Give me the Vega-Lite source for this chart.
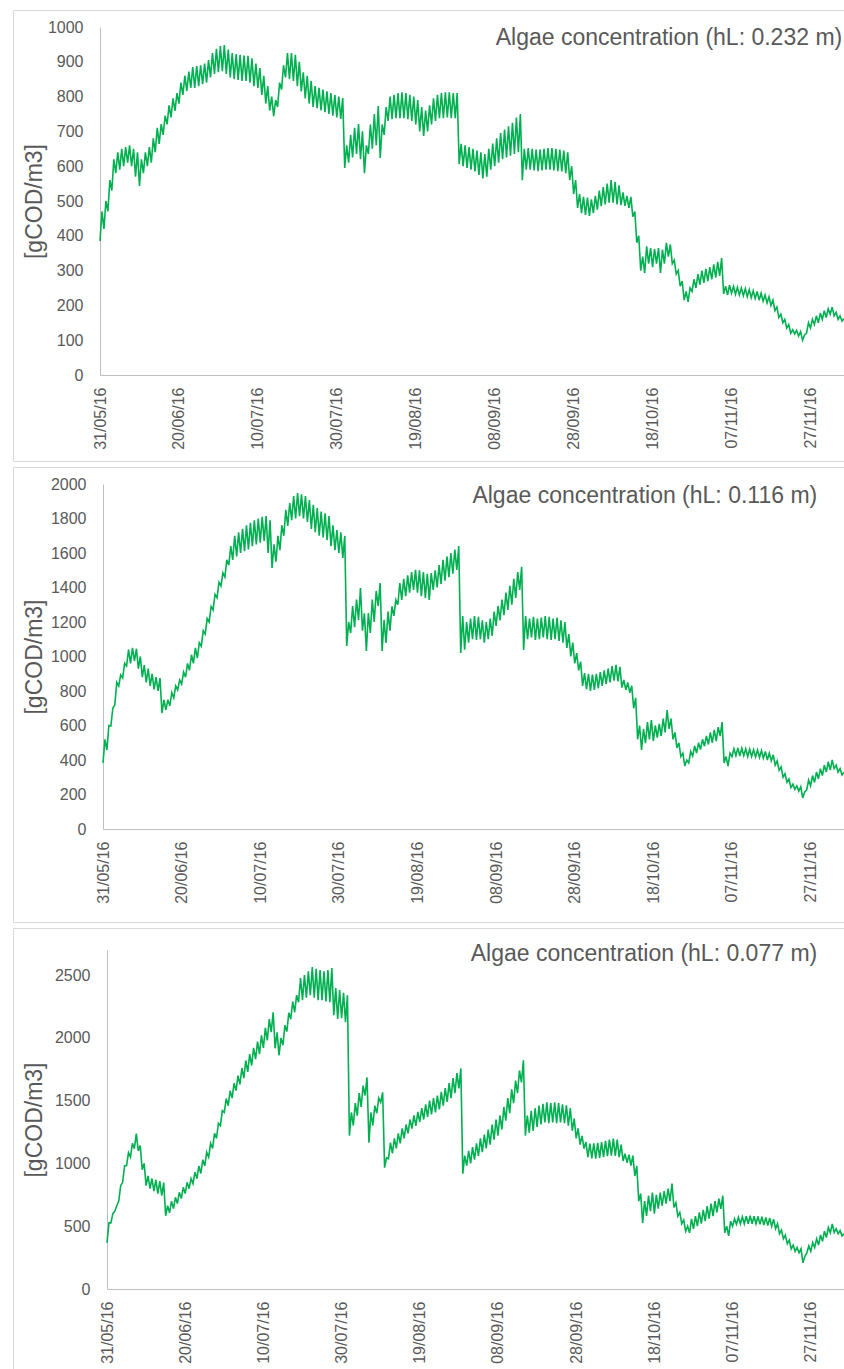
{
"$schema":"https://vega.github.io/schema/vega-lite/v6.json",
"background":"white",
"padding":{"left":12,"top":9,"right":0,"bottom":0},
"spacing":4,
"config":{
"font":"Liberation Sans, Arial, sans-serif",
"view":{"stroke":"#d9d9d9","strokeWidth":1},
"axis":{"grid":false,"ticks":false,"domainColor":"#bfbfbf","domainWidth":1,"labelColor":"#595959","labelFontSize":16,"titleColor":"#595959","titleFontWeight":"normal","titleFontSize":23,"titleBaseline":"middle","labelFont":"Liberation Sans, Arial, sans-serif","titleFont":"Liberation Sans, Arial, sans-serif"},
"title":{"fontSize":23,"fontWeight":"normal","color":"#595959","anchor":"end","font":"Liberation Sans, Arial, sans-serif"}
},
"data":{"values":[
{"d":0,"a":385,"b":383,"c":367},{"d":0.5,"a":470,"b":520,"c":527},
{"d":1,"a":420,"b":458,"c":527},{"d":1.5,"a":500,"b":600,"c":600},
{"d":2,"a":470,"b":597,"c":620},{"d":2.5,"a":560,"b":700,"c":663},
{"d":3,"a":530,"b":720,"c":700},{"d":3.5,"a":620,"b":850,"c":823},
{"d":4,"a":580,"b":829,"c":850},{"d":4.5,"a":640,"b":893,"c":982},
{"d":5,"a":590,"b":875,"c":982},{"d":5.5,"a":650,"b":960,"c":1086},
{"d":6,"a":600,"b":945,"c":1050},{"d":6.5,"a":655,"b":1040,"c":1160},
{"d":7,"a":610,"b":960,"c":1118},{"d":7.5,"a":660,"b":1050,"c":1238},
{"d":8,"a":600,"b":974,"c":1100},{"d":8.5,"a":650,"b":1045,"c":1142},
{"d":9,"a":570,"b":930,"c":950},{"d":9.5,"a":640,"b":1000,"c":1000},
{"d":10,"a":543,"b":880,"c":823},{"d":10.5,"a":620,"b":950,"c":902},
{"d":11,"a":580,"b":850,"c":800},{"d":11.5,"a":640,"b":930,"c":880},
{"d":12,"a":600,"b":830,"c":780},{"d":12.5,"a":655,"b":900,"c":870},
{"d":13,"a":610,"b":810,"c":760},{"d":13.5,"a":680,"b":880,"c":860},
{"d":14,"a":640,"b":800,"c":743},{"d":14.5,"a":710,"b":875,"c":847},
{"d":15,"a":664,"b":672,"c":583},{"d":15.5,"a":721,"b":748,"c":663},
{"d":16,"a":690,"b":690,"c":607},{"d":16.5,"a":745,"b":750,"c":700},
{"d":17,"a":720,"b":713,"c":640},{"d":17.5,"a":775,"b":790,"c":730},
{"d":18,"a":740,"b":760,"c":680},{"d":18.5,"a":795,"b":830,"c":770},
{"d":19,"a":759,"b":806,"c":720},{"d":19.5,"a":810,"b":864,"c":810},
{"d":20,"a":780,"b":840,"c":760},{"d":20.5,"a":840,"b":910,"c":850},
{"d":21,"a":805,"b":880,"c":799},{"d":21.5,"a":860,"b":960,"c":879},
{"d":22,"a":816,"b":920,"c":840},{"d":22.5,"a":872,"b":1010,"c":930},
{"d":23,"a":825,"b":960,"c":880},{"d":23.5,"a":885,"b":1050,"c":980},
{"d":24,"a":825,"b":990,"c":920},{"d":24.5,"a":888,"b":1080,"c":1030},
{"d":25,"a":830,"b":1060,"c":980},{"d":25.5,"a":890,"b":1150,"c":1090},
{"d":26,"a":836,"b":1130,"c":1050},{"d":26.5,"a":895,"b":1220,"c":1160},
{"d":27,"a":840,"b":1200,"c":1120},{"d":27.5,"a":905,"b":1290,"c":1240},
{"d":28,"a":855,"b":1270,"c":1200},{"d":28.5,"a":925,"b":1360,"c":1320},
{"d":29,"a":865,"b":1340,"c":1300},{"d":29.5,"a":937,"b":1430,"c":1420},
{"d":30,"a":870,"b":1409,"c":1406},{"d":30.5,"a":945,"b":1484,"c":1517},
{"d":31,"a":873,"b":1460,"c":1460},{"d":31.5,"a":948,"b":1560,"c":1580},
{"d":32,"a":865,"b":1530,"c":1520},{"d":32.5,"a":935,"b":1640,"c":1640},
{"d":33,"a":855,"b":1560,"c":1580},{"d":33.5,"a":925,"b":1700,"c":1700},
{"d":34,"a":850,"b":1580,"c":1630},{"d":34.5,"a":922,"b":1720,"c":1760},
{"d":35,"a":848,"b":1600,"c":1680},{"d":35.5,"a":920,"b":1740,"c":1820},
{"d":36,"a":845,"b":1610,"c":1730},{"d":36.5,"a":918,"b":1760,"c":1870},
{"d":37,"a":845,"b":1620,"c":1780},{"d":37.5,"a":917,"b":1775,"c":1920},
{"d":38,"a":840,"b":1640,"c":1830},{"d":38.5,"a":910,"b":1790,"c":1970},
{"d":39,"a":830,"b":1650,"c":1870},{"d":39.5,"a":895,"b":1800,"c":2020},
{"d":40,"a":825,"b":1660,"c":1920},{"d":40.5,"a":882,"b":1810,"c":2080},
{"d":41,"a":805,"b":1670,"c":1980},{"d":41.5,"a":860,"b":1814,"c":2150},
{"d":42,"a":780,"b":1600,"c":2045},{"d":42.5,"a":830,"b":1790,"c":2204},
{"d":43,"a":760,"b":1513,"c":1917},{"d":43.5,"a":800,"b":1650,"c":2045},
{"d":44,"a":744,"b":1550,"c":1861},{"d":44.5,"a":790,"b":1700,"c":2000},
{"d":45,"a":770,"b":1617,"c":1941},{"d":45.5,"a":840,"b":1760,"c":2100},
{"d":46,"a":820,"b":1700,"c":2050},{"d":46.5,"a":890,"b":1850,"c":2200},
{"d":47,"a":855,"b":1757,"c":2150},{"d":47.5,"a":925,"b":1890,"c":2290},
{"d":48,"a":850,"b":1790,"c":2204},{"d":48.5,"a":925,"b":1930,"c":2340},
{"d":49,"a":845,"b":1800,"c":2284},{"d":49.5,"a":920,"b":1948,"c":2476},
{"d":50,"a":830,"b":1814,"c":2300},{"d":50.5,"a":900,"b":1940,"c":2500},
{"d":51,"a":815,"b":1800,"c":2320},{"d":51.5,"a":870,"b":1930,"c":2530},
{"d":52,"a":795,"b":1780,"c":2340},{"d":52.5,"a":860,"b":1907,"c":2564},
{"d":53,"a":780,"b":1740,"c":2320},{"d":53.5,"a":845,"b":1880,"c":2550},
{"d":54,"a":770,"b":1720,"c":2300},{"d":54.5,"a":830,"b":1860,"c":2540},
{"d":55,"a":767,"b":1700,"c":2300},{"d":55.5,"a":825,"b":1840,"c":2530},
{"d":56,"a":760,"b":1690,"c":2290},{"d":56.5,"a":820,"b":1830,"c":2540},
{"d":57,"a":755,"b":1675,"c":2284},{"d":57.5,"a":815,"b":1814,"c":2556},
{"d":58,"a":750,"b":1640,"c":2180},{"d":58.5,"a":810,"b":1760,"c":2396},
{"d":59,"a":745,"b":1617,"c":2150},{"d":59.5,"a":805,"b":1733,"c":2380},
{"d":60,"a":740,"b":1600,"c":2157},{"d":60.5,"a":800,"b":1720,"c":2360},
{"d":61,"a":736,"b":1571,"c":2125},{"d":61.5,"a":796,"b":1699,"c":2340},
{"d":62,"a":595,"b":1061,"c":1222},{"d":62.5,"a":660,"b":1200,"c":1406},
{"d":63,"a":610,"b":1136,"c":1302},{"d":63.5,"a":690,"b":1293,"c":1480},
{"d":64,"a":625,"b":1170,"c":1380},{"d":64.5,"a":710,"b":1330,"c":1560},
{"d":65,"a":635,"b":1212,"c":1450},{"d":65.5,"a":721,"b":1397,"c":1620},
{"d":66,"a":620,"b":1150,"c":1541},{"d":66.5,"a":700,"b":1250,"c":1685},
{"d":67,"a":580,"b":1032,"c":1166},{"d":67.5,"a":660,"b":1252,"c":1406},
{"d":68,"a":635,"b":1136,"c":1302},{"d":68.5,"a":720,"b":1330,"c":1460},
{"d":69,"a":650,"b":1200,"c":1400},{"d":69.5,"a":750,"b":1380,"c":1520},
{"d":70,"a":660,"b":1293,"c":1486},{"d":70.5,"a":773,"b":1426,"c":1566},
{"d":71,"a":624,"b":1032,"c":966},{"d":71.5,"a":720,"b":1212,"c":1046},
{"d":72,"a":690,"b":1078,"c":1038},{"d":72.5,"a":770,"b":1260,"c":1166},
{"d":73,"a":730,"b":1150,"c":1080},{"d":73.5,"a":800,"b":1290,"c":1200},
{"d":74,"a":735,"b":1235,"c":1120},{"d":74.5,"a":805,"b":1328,"c":1240},
{"d":75,"a":738,"b":1300,"c":1160},{"d":75.5,"a":810,"b":1426,"c":1280},
{"d":76,"a":738,"b":1328,"c":1200},{"d":76.5,"a":812,"b":1450,"c":1310},
{"d":77,"a":738,"b":1350,"c":1240},{"d":77.5,"a":810,"b":1470,"c":1350},
{"d":78,"a":735,"b":1370,"c":1278},{"d":78.5,"a":805,"b":1490,"c":1382},
{"d":79,"a":730,"b":1386,"c":1300},{"d":79.5,"a":800,"b":1502,"c":1410},
{"d":80,"a":720,"b":1370,"c":1330},{"d":80.5,"a":790,"b":1500,"c":1440},
{"d":81,"a":700,"b":1350,"c":1350},{"d":81.5,"a":770,"b":1490,"c":1470},
{"d":82,"a":687,"b":1340,"c":1370},{"d":82.5,"a":760,"b":1480,"c":1500},
{"d":83,"a":700,"b":1328,"c":1390},{"d":83.5,"a":775,"b":1484,"c":1520},
{"d":84,"a":720,"b":1386,"c":1406},{"d":84.5,"a":795,"b":1500,"c":1541},
{"d":85,"a":730,"b":1400,"c":1430},{"d":85.5,"a":805,"b":1530,"c":1570},
{"d":86,"a":738,"b":1420,"c":1460},{"d":86.5,"a":810,"b":1560,"c":1600},
{"d":87,"a":738,"b":1440,"c":1490},{"d":87.5,"a":812,"b":1580,"c":1640},
{"d":88,"a":740,"b":1460,"c":1520},{"d":88.5,"a":812,"b":1600,"c":1680},
{"d":89,"a":738,"b":1480,"c":1560},{"d":89.5,"a":810,"b":1620,"c":1720},
{"d":90,"a":738,"b":1502,"c":1597},{"d":90.5,"a":810,"b":1640,"c":1757},
{"d":91,"a":606,"b":1020,"c":918},{"d":91.5,"a":664,"b":1235,"c":1062},
{"d":92,"a":600,"b":1040,"c":982},{"d":92.5,"a":660,"b":1200,"c":1100},
{"d":93,"a":595,"b":1080,"c":1000},{"d":93.5,"a":655,"b":1220,"c":1130},
{"d":94,"a":590,"b":1100,"c":1030},{"d":94.5,"a":650,"b":1235,"c":1160},
{"d":95,"a":585,"b":1096,"c":1060},{"d":95.5,"a":645,"b":1230,"c":1200},
{"d":96,"a":575,"b":1100,"c":1090},{"d":96.5,"a":640,"b":1210,"c":1230},
{"d":97,"a":565,"b":1080,"c":1120},{"d":97.5,"a":635,"b":1200,"c":1270},
{"d":98,"a":570,"b":1100,"c":1150},{"d":98.5,"a":650,"b":1220,"c":1310},
{"d":99,"a":590,"b":1120,"c":1190},{"d":99.5,"a":665,"b":1260,"c":1350},
{"d":100,"a":600,"b":1177,"c":1222},{"d":100.5,"a":680,"b":1293,"c":1382},
{"d":101,"a":610,"b":1210,"c":1270},{"d":101.5,"a":695,"b":1330,"c":1450},
{"d":102,"a":620,"b":1240,"c":1340},{"d":102.5,"a":705,"b":1370,"c":1520},
{"d":103,"a":625,"b":1270,"c":1400},{"d":103.5,"a":715,"b":1410,"c":1590},
{"d":104,"a":630,"b":1300,"c":1480},{"d":104.5,"a":725,"b":1450,"c":1660},
{"d":105,"a":635,"b":1340,"c":1560},{"d":105.5,"a":740,"b":1490,"c":1740},
{"d":106,"a":640,"b":1386,"c":1645},{"d":106.5,"a":750,"b":1520,"c":1821},
{"d":107,"a":560,"b":1038,"c":1222},{"d":107.5,"a":650,"b":1235,"c":1382},
{"d":108,"a":590,"b":1100,"c":1246},{"d":108.5,"a":652,"b":1220,"c":1420},
{"d":109,"a":590,"b":1110,"c":1260},{"d":109.5,"a":650,"b":1230,"c":1440},
{"d":110,"a":588,"b":1096,"c":1290},{"d":110.5,"a":648,"b":1220,"c":1460},
{"d":111,"a":586,"b":1100,"c":1310},{"d":111.5,"a":648,"b":1225,"c":1475},
{"d":112,"a":588,"b":1110,"c":1326},{"d":112.5,"a":650,"b":1235,"c":1486},
{"d":113,"a":590,"b":1100,"c":1320},{"d":113.5,"a":652,"b":1230,"c":1480},
{"d":114,"a":590,"b":1096,"c":1326},{"d":114.5,"a":652,"b":1220,"c":1486},
{"d":115,"a":588,"b":1100,"c":1320},{"d":115.5,"a":650,"b":1225,"c":1480},
{"d":116,"a":586,"b":1090,"c":1326},{"d":116.5,"a":648,"b":1210,"c":1470},
{"d":117,"a":585,"b":1080,"c":1320},{"d":117.5,"a":645,"b":1200,"c":1462},
{"d":118,"a":580,"b":1050,"c":1300},{"d":118.5,"a":640,"b":1130,"c":1440},
{"d":119,"a":560,"b":1000,"c":1260},{"d":119.5,"a":600,"b":1080,"c":1358},
{"d":120,"a":520,"b":960,"c":1200},{"d":120.5,"a":560,"b":1020,"c":1280},
{"d":121,"a":480,"b":920,"c":1150},{"d":121.5,"a":520,"b":970,"c":1220},
{"d":122,"a":465,"b":829,"c":1118},{"d":122.5,"a":512,"b":904,"c":1170},
{"d":123,"a":460,"b":810,"c":1050},{"d":123.5,"a":510,"b":900,"c":1158},
{"d":124,"a":457,"b":800,"c":1040},{"d":124.5,"a":505,"b":895,"c":1160},
{"d":125,"a":465,"b":806,"c":1038},{"d":125.5,"a":515,"b":900,"c":1165},
{"d":126,"a":475,"b":815,"c":1045},{"d":126.5,"a":530,"b":910,"c":1170},
{"d":127,"a":485,"b":830,"c":1050},{"d":127.5,"a":540,"b":920,"c":1180},
{"d":128,"a":490,"b":840,"c":1058},{"d":128.5,"a":550,"b":930,"c":1190},
{"d":129,"a":495,"b":850,"c":1062},{"d":129.5,"a":560,"b":945,"c":1198},
{"d":130,"a":495,"b":860,"c":1060},{"d":130.5,"a":555,"b":951,"c":1190},
{"d":131,"a":490,"b":855,"c":1050},{"d":131.5,"a":545,"b":940,"c":1150},
{"d":132,"a":488,"b":820,"c":1020},{"d":132.5,"a":525,"b":864,"c":1078},
{"d":133,"a":486,"b":806,"c":1006},{"d":133.5,"a":515,"b":850,"c":1070},
{"d":134,"a":480,"b":790,"c":982},{"d":134.5,"a":512,"b":830,"c":1062},
{"d":135,"a":455,"b":700,"c":900},{"d":135.5,"a":470,"b":760,"c":980},
{"d":136,"a":380,"b":520,"c":700},{"d":136.5,"a":400,"b":600,"c":760},
{"d":137,"a":300,"b":458,"c":527},{"d":137.5,"a":340,"b":580,"c":700},
{"d":138,"a":293,"b":498,"c":583},{"d":138.5,"a":370,"b":620,"c":743},
{"d":139,"a":320,"b":520,"c":620},{"d":139.5,"a":365,"b":632,"c":767},
{"d":140,"a":310,"b":510,"c":600},{"d":140.5,"a":362,"b":600,"c":750},
{"d":141,"a":320,"b":530,"c":640},{"d":141.5,"a":365,"b":610,"c":767},
{"d":142,"a":293,"b":539,"c":663},{"d":142.5,"a":360,"b":640,"c":780},
{"d":143,"a":320,"b":560,"c":680},{"d":143.5,"a":380,"b":690,"c":800},
{"d":144,"a":340,"b":580,"c":700},{"d":144.5,"a":375,"b":640,"c":839},
{"d":145,"a":320,"b":520,"c":650},{"d":145.5,"a":330,"b":560,"c":687},
{"d":146,"a":290,"b":470,"c":580},{"d":146.5,"a":300,"b":500,"c":610},
{"d":147,"a":255,"b":420,"c":520},{"d":147.5,"a":270,"b":440,"c":550},
{"d":148,"a":215,"b":365,"c":460},{"d":148.5,"a":240,"b":400,"c":500},
{"d":149,"a":210,"b":383,"c":447},{"d":149.5,"a":250,"b":450,"c":559},
{"d":150,"a":240,"b":423,"c":479},{"d":150.5,"a":275,"b":481,"c":580},
{"d":151,"a":250,"b":440,"c":500},{"d":151.5,"a":290,"b":500,"c":610},
{"d":152,"a":260,"b":460,"c":520},{"d":152.5,"a":300,"b":520,"c":630},
{"d":153,"a":265,"b":480,"c":540},{"d":153.5,"a":305,"b":540,"c":660},
{"d":154,"a":270,"b":490,"c":560},{"d":154.5,"a":310,"b":560,"c":680},
{"d":155,"a":275,"b":500,"c":580},{"d":155.5,"a":318,"b":575,"c":700},
{"d":156,"a":280,"b":510,"c":610},{"d":156.5,"a":325,"b":590,"c":720},
{"d":157,"a":285,"b":539,"c":639},{"d":157.5,"a":336,"b":620,"c":743},
{"d":158,"a":233,"b":383,"c":447},{"d":158.5,"a":255,"b":420,"c":500},
{"d":159,"a":230,"b":365,"c":423},{"d":159.5,"a":258,"b":440,"c":540},
{"d":160,"a":235,"b":420,"c":500},{"d":160.5,"a":255,"b":465,"c":560},
{"d":161,"a":232,"b":425,"c":515},{"d":161.5,"a":252,"b":470,"c":570},
{"d":162,"a":230,"b":423,"c":519},{"d":162.5,"a":250,"b":468,"c":575},
{"d":163,"a":228,"b":425,"c":519},{"d":163.5,"a":248,"b":465,"c":580},
{"d":164,"a":225,"b":420,"c":520},{"d":164.5,"a":245,"b":462,"c":583},
{"d":165,"a":222,"b":420,"c":520},{"d":165.5,"a":242,"b":460,"c":580},
{"d":166,"a":220,"b":418,"c":519},{"d":166.5,"a":240,"b":458,"c":578},
{"d":167,"a":215,"b":415,"c":515},{"d":167.5,"a":235,"b":455,"c":575},
{"d":168,"a":212,"b":410,"c":510},{"d":168.5,"a":230,"b":450,"c":570},
{"d":169,"a":207,"b":400,"c":505},{"d":169.5,"a":225,"b":440,"c":565},
{"d":170,"a":200,"b":395,"c":500},{"d":170.5,"a":215,"b":430,"c":555},
{"d":171,"a":185,"b":370,"c":480},{"d":171.5,"a":195,"b":395,"c":520},
{"d":172,"a":165,"b":340,"c":440},{"d":172.5,"a":175,"b":360,"c":470},
{"d":173,"a":150,"b":300,"c":400},{"d":173.5,"a":160,"b":320,"c":430},
{"d":174,"a":135,"b":270,"c":360},{"d":174.5,"a":145,"b":290,"c":390},
{"d":175,"a":120,"b":240,"c":320},{"d":175.5,"a":130,"b":260,"c":350},
{"d":176,"a":118,"b":230,"c":300},{"d":176.5,"a":128,"b":250,"c":330},
{"d":177,"a":112,"b":220,"c":288},{"d":177.5,"a":125,"b":245,"c":320},
{"d":178,"a":100,"b":180,"c":208},{"d":178.5,"a":115,"b":215,"c":260},
{"d":179,"a":120,"b":226,"c":288},{"d":179.5,"a":150,"b":284,"c":343},
{"d":180,"a":135,"b":250,"c":300},{"d":180.5,"a":160,"b":310,"c":370},
{"d":181,"a":145,"b":270,"c":330},{"d":181.5,"a":170,"b":330,"c":400},
{"d":182,"a":150,"b":290,"c":350},{"d":182.5,"a":178,"b":350,"c":430},
{"d":183,"a":160,"b":310,"c":380},{"d":183.5,"a":185,"b":370,"c":460},
{"d":184,"a":165,"b":330,"c":410},{"d":184.5,"a":190,"b":390,"c":490},
{"d":185,"a":175,"b":342,"c":447},{"d":185.5,"a":195,"b":400,"c":519},
{"d":186,"a":170,"b":350,"c":450},{"d":186.5,"a":180,"b":370,"c":480},
{"d":187,"a":160,"b":330,"c":440},{"d":187.5,"a":170,"b":350,"c":465},
{"d":188,"a":155,"b":313,"c":423},{"d":188.5,"a":162,"b":330,"c":440}
]},
"vconcat":[
{
"width":834,"height":451,
"title":{"text":"Algae concentration (hL: 0.232 m)","offset":-40,"dx":-5},
"mark":{"type":"line","color":"#00b050","strokeWidth":1.6},
"encoding":{
"x":{"field":"d","type":"quantitative","scale":{"domain":[0,188.5],"range":[87,831],"nice":false,"zero":false},
"axis":{"values":[0,20,40,60,80,100,120,140,160,180],"labelExpr":"timeFormat(datetime(2016,4,31+datum.value),'%d/%m/%y')","labelAngle":-90,"labelPadding":12,"offset":-86,"title":null}},
"y":{"field":"a","type":"quantitative","scale":{"domain":[0,1000],"range":[365,17],"nice":false},
"axis":{"values":[0,100,200,300,400,500,600,700,800,900,1000],"format":"d","labelPadding":17,"offset":-87,"title":"[gCOD/m3]","titleX":-66}}
}
},
{
"width":834,"height":455,
"title":{"text":"Algae concentration (hL: 0.116 m)","offset":-41,"dx":-30},
"mark":{"type":"line","color":"#00b050","strokeWidth":1.6},
"encoding":{
"x":{"field":"d","type":"quantitative","scale":{"domain":[0,188.5],"range":[90,831],"nice":false,"zero":false},
"axis":{"values":[0,20,40,60,80,100,120,140,160,180],"labelExpr":"timeFormat(datetime(2016,4,31+datum.value),'%d/%m/%y')","labelAngle":-90,"labelPadding":12,"offset":-93,"title":null}},
"y":{"field":"b","type":"quantitative","scale":{"domain":[0,2000],"range":[362,17],"nice":false},
"axis":{"values":[0,200,400,600,800,1000,1200,1400,1600,1800,2000],"format":"d","labelPadding":17,"offset":-90,"title":"[gCOD/m3]","titleX":-69}}
}
},
{
"width":834,"height":450,
"title":{"text":"Algae concentration (hL: 0.077 m)","offset":-38,"dx":-30},
"mark":{"type":"line","color":"#00b050","strokeWidth":1.6},
"encoding":{
"x":{"field":"d","type":"quantitative","scale":{"domain":[0,188.5],"range":[94,831],"nice":false,"zero":false},
"axis":{"values":[0,20,40,60,80,100,120,140,160,180],"labelExpr":"timeFormat(datetime(2016,4,31+datum.value),'%d/%m/%y')","labelAngle":-90,"labelPadding":12,"offset":-89,"title":null}},
"y":{"field":"c","type":"quantitative","scale":{"domain":[0,2700],"range":[361,22],"nice":false},
"axis":{"values":[0,500,1000,1500,2000,2500],"format":"d","labelPadding":17,"offset":-94,"title":"[gCOD/m3]","titleX":-73}}
}
}
]
}
